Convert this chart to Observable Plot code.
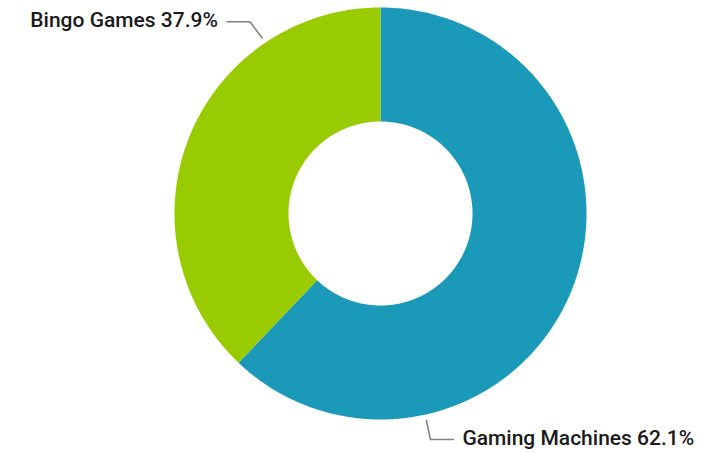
<!DOCTYPE html>
<html><head><meta charset="utf-8">
<script src="https://cdn.jsdelivr.net/npm/d3@7"></script>
<script src="https://cdn.jsdelivr.net/npm/@observablehq/plot@0.6"></script>
<style>body{margin:0;background:#fff}</style>
</head><body><div id="chart"></div>
<script>
const categories = ["Gaming Machines", "Bingo Games"];
const values = [62.1, 37.9];
const colors = ["#1b99b8", "#99cc00"];
const labelAngles = [167.5, 326]; // degrees clockwise from top where leader touches

const W = 718, H = 453;
const cx = 380, cy = 213, R = 206, r = 92;
const elbow = [[4, 19], [-12, -16]];
const total = d3.sum(values);
let acc = 0;
const slicePts = [];
categories.forEach((c, i) => {
  const a0 = acc / total * 2 * Math.PI;
  acc += values[i];
  const a1 = acc / total * 2 * Math.PI;
  const n = 300;
  for (let k = 0; k <= n; k++) {
    const a = a0 + (a1 - a0) * k / n;
    slicePts.push({cat: c, x: cx + R * Math.sin(a), y: cy - R * Math.cos(a)});
  }
  for (let k = n; k >= 0; k--) {
    const a = a0 + (a1 - a0) * k / n;
    slicePts.push({cat: c, x: cx + r * Math.sin(a), y: cy - r * Math.cos(a)});
  }
});

const leaders = [];
const labels = [];
categories.forEach((c, i) => {
  const a = labelAngles[i] * Math.PI / 180;
  const px = cx + (R + 6) * Math.sin(a), py = cy - (R + 6) * Math.cos(a);
  const dir = Math.sin(a) >= 0 ? 1 : -1;
  const ex = px + elbow[i][0], ey = py + elbow[i][1];
  const fx = ex + dir * 23;
  leaders.push({cat: c, x: px, y: py}, {cat: c, x: ex, y: ey}, {cat: c, x: fx, y: ey});
  labels.push({text: `${c} ${values[i].toFixed(1)}%`, x: fx + dir * 9, y: ey - 1, dir});
});

const textOpts = {x: "x", y: "y", text: "text", fontSize: 21, fontWeight: 500, fill: "#1a1a1a", fontFamily: "Roboto", lineAnchor: "middle"};
const chart = Plot.plot({
  width: W, height: H,
  margin: 0,
  x: {domain: [0, W], range: [0, W], axis: null},
  y: {domain: [0, H], range: [0, H], axis: null},
  color: {domain: categories, range: colors},
  marks: [
    Plot.line(slicePts, {x: "x", y: "y", z: "cat", fill: "cat", stroke: "none", curve: "linear"}),
    Plot.line(leaders, {x: "x", y: "y", z: "cat", stroke: "#7f7f7f", strokeWidth: 1.5}),
    Plot.text(labels.filter(d => d.dir > 0), {...textOpts, textAnchor: "start"}),
    Plot.text(labels.filter(d => d.dir < 0), {...textOpts, textAnchor: "end"})
  ]
});
document.getElementById("chart").appendChild(chart);
</script></body></html>
